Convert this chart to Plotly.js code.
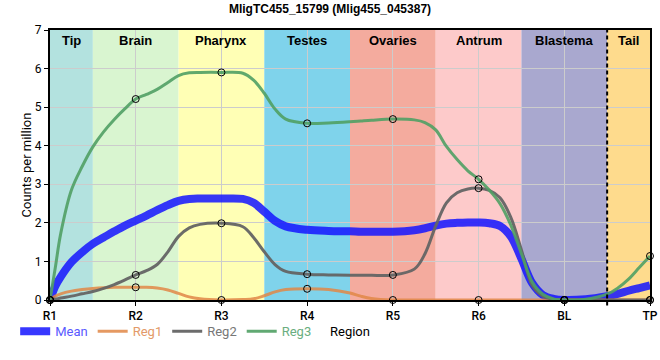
<!DOCTYPE html>
<html><head><meta charset="utf-8">
<script src="https://cdn.plot.ly/plotly-3.0.1.min.js"></script>
<style>html,body{margin:0;padding:0;background:#fff}#chart{width:660px;height:360px}</style>
</head><body><div id="chart"></div>
<script>
// ---- data ----
const categories = ['R1','R2','R3','R4','R5','R6','BL','TP'];
const regionNames = ['Tip','Brain','Pharynx','Testes','Ovaries','Antrum','Blastema','Tail'];
const regionStarts = [0,0.5,1.5,2.5,3.5,4.5,5.5,6.5];
const regionEnds   = [0.5,1.5,2.5,3.5,4.5,5.5,6.5,7];
const regionColors = ['#b3e2df','#d9f5d0','#ffffb5','#7fd3eb','#f4ab9e','#fdcaca','#a9a8cf','#fedb8d'];

// values at the sample points (markers)
const reg1Points = [0,0.33,0,0.29,0,0,0,0];
const reg2Points = [0,0.65,1.99,0.67,0.65,2.9,0,0];
const reg3Points = [0,5.21,5.9,4.58,4.69,3.13,0,1.14];

// smoothed curves (position along the body, value)
const curveX = [0,0.0625,0.125,0.25,0.375,0.5,0.625,0.75,0.875,1,1.125,1.25,1.375,1.5,1.625,1.75,2,2.25,2.375,2.5,2.625,2.75,3,3.25,3.5,3.625,3.75,4,4.25,4.375,4.5,4.625,4.75,4.875,5,5.125,5.25,5.375,5.5,5.625,5.75,5.875,6,6.25,6.5,6.625,6.75,6.875,7];
const meanCurve = [0,0.36,0.6,0.98,1.24,1.46,1.62,1.78,1.93,2.06,2.19,2.33,2.46,2.57,2.62,2.63,2.63,2.62,2.52,2.29,2.05,1.91,1.82,1.79,1.78,1.77,1.77,1.77,1.81,1.86,1.93,1.98,2.0,2.01,2.01,1.99,1.92,1.65,1.07,0.44,0.13,0.03,0,0.02,0.1,0.16,0.24,0.31,0.38];
const reg1Curve = [0,0.1,0.16,0.23,0.27,0.3,0.32,0.33,0.33,0.33,0.33,0.31,0.26,0.17,0.08,0.03,0,0.01,0.03,0.11,0.21,0.27,0.29,0.27,0.18,0.1,0.04,0,0,0,0,0,0,0,0,0,0,0,0,0,0,0,0,0,0,0,0,0,0];
const reg2Curve = [0,0.02,0.05,0.1,0.16,0.22,0.3,0.4,0.52,0.65,0.76,0.92,1.25,1.65,1.87,1.96,1.99,1.9,1.62,1.25,0.92,0.74,0.67,0.65,0.64,0.64,0.64,0.65,0.8,1.2,1.92,2.52,2.78,2.88,2.9,2.84,2.65,2.15,1.3,0.38,0.1,0.02,0,0,0,0,0,0,0];
const reg3Curve = [0,0.85,1.72,2.85,3.46,3.97,4.36,4.68,4.96,5.21,5.33,5.46,5.64,5.82,5.89,5.9,5.9,5.88,5.7,5.36,4.95,4.69,4.58,4.59,4.62,4.64,4.66,4.69,4.67,4.6,4.41,3.98,3.64,3.35,3.13,2.85,2.5,1.95,1.2,0.47,0.15,0.03,0,0.02,0.15,0.31,0.54,0.84,1.14];

const seriesNames = ['Mean','Reg1','Reg2','Reg3'];
const xAxisTitle = 'Region';
const yAxisTitle = 'Counts per million';
// ---- styles ----
const lineColors = ['rgba(20,20,255,0.85)','rgba(225,135,70,0.85)','rgba(100,100,100,0.95)','rgba(80,160,100,0.9)'];
const textColors = ['#5a5aff','#e39a68','#777777','#6aae80'];
const lineWidths = [8,3,3,3];

const catIdx = categories.map((c,i)=>i);
const curves = [meanCurve, reg1Curve, reg2Curve, reg3Curve];

const traces = curves.map((ys,i)=>({
  type:'scatter', mode:'lines', x:curveX, y:ys,
  name:'<span style="color:'+textColors[i]+'">'+seriesNames[i]+'</span>',
  line:{color:lineColors[i], width:lineWidths[i], shape:'spline', smoothing:1},
  cliponaxis:false, hoverinfo:'skip'
}));
[reg1Points, reg2Points, reg3Points].forEach(p=>{
  traces.push({type:'scatter', mode:'markers', x:catIdx, y:p, showlegend:false,
    marker:{symbol:'circle', size:7, color:'rgba(0,0,0,0)', line:{color:'#000', width:1}},
    cliponaxis:false, hoverinfo:'skip'});
});

const shapes = regionNames.map((n,i)=>({
  type:'rect', xref:'x', yref:'paper', x0:regionStarts[i], x1:regionEnds[i], y0:0, y1:1,
  fillcolor:regionColors[i], line:{width:0}, layer:'below'
}));
shapes.push({type:'line', xref:'x', yref:'paper', x0:regionStarts[7], x1:regionStarts[7], y0:-0.02, y1:1,
  line:{color:'#000', width:2, dash:'4px,3px'}, layer:'above'});

const annotations = regionNames.map((n,i)=>({
  xref:'x', yref:'paper', x:(regionStarts[i]+regionEnds[i])/2, y:1, yanchor:'top', yshift:-1,
  text:'<b>'+n+'</b>', showarrow:false,
  font:{family:'Liberation Sans, Arial, sans-serif', size:13, color:'#000'}
}));
// x-axis title (placed as text below the tick labels)
annotations.push({xref:'paper', yref:'paper', x:0.5, y:-0.118, xanchor:'center', yanchor:'middle',
  text:xAxisTitle, showarrow:false, font:{family:'Roboto', size:13, color:'#000'}});

const axisCommon = {
  range:[0,7], showgrid:true, gridcolor:'#cccccc', gridwidth:1, zeroline:false,
  showline:true, linecolor:'#000', linewidth:2, mirror:true,
  ticks:'outside', ticklen:4, tickcolor:'#000', automargin:false
};

const layout = {
  width:660, height:360,
  margin:{l:50, r:10, t:30, b:60, autoexpand:false},
  paper_bgcolor:'#fff', plot_bgcolor:'#fff',
  title:{text:'<b>MligTC455_15799 (Mlig455_045387)</b>', x:0.5, xref:'container', y:0.975, yref:'container', yanchor:'middle',
    font:{family:'Liberation Sans, Arial, sans-serif', size:12, color:'#000'}},
  xaxis:Object.assign({}, axisCommon, {tickvals:catIdx, ticktext:categories,
    tickfont:{family:'Roboto', size:12, color:'#000', weight:500}}),
  yaxis:Object.assign({}, axisCommon, {dtick:1, tick0:0,
    tickfont:{family:'Roboto', size:12, color:'#000'},
    title:{text:yAxisTitle, font:{family:'Roboto', size:13, color:'#000'}, standoff:0}}),
  legend:{orientation:'h', x:0.023, xref:'container', xanchor:'left', y:0.08, yref:'container', yanchor:'middle',
    font:{family:'Roboto', size:13}, bgcolor:'rgba(0,0,0,0)'},
  shapes:shapes, annotations:annotations, showlegend:true
};

Plotly.newPlot('chart', traces, layout, {staticPlot:true, displayModeBar:false});
</script>
</body></html>
